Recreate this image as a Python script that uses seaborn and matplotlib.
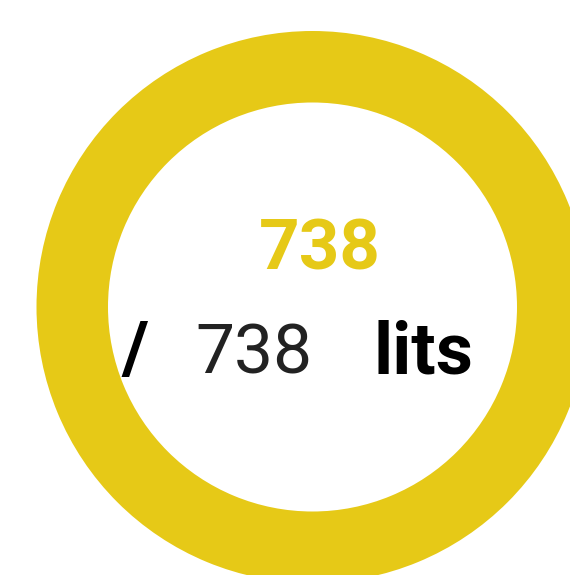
import matplotlib
matplotlib.use("Agg")
import matplotlib.pyplot as plt
import seaborn as sns

sns.set_theme(style="white")
plt.rcParams['font.family'] = ['Roboto', 'DejaVu Sans']

value = 738
total = 738
unit = "lits"
ring_color = "#E6C917"

W, H = 570, 575
fig = plt.figure(figsize=(W / 100, H / 100), dpi=100)
cx, cy, R = 312.5, 307, 276
ax = fig.add_axes([(cx - R) / W, (H - cy - R) / H, 2 * R / W, 2 * R / H])
remaining = total - value
vals = [value] + ([remaining] if remaining > 0 else [])
ax.pie(vals, colors=[ring_color, "#eeeeee"], radius=1, startangle=90,
       counterclock=False, wedgeprops=dict(width=1 - 204.5 / 276, edgecolor="none"))
ax.set_xlim(-1, 1)
ax.set_ylim(-1, 1)
ax.set_aspect("equal")
ax.axis("off")

def px(x):
    return (x - cx) / R

def py(y):
    return (cy - y) / R

ax.text(px(320), py(269), f"{value}", color=ring_color, fontsize=51, fontweight="bold",
        ha="center", va="baseline")
ax.text(px(121), py(373), "/", color="black", fontsize=52, fontweight="bold",
        ha="left", va="baseline")
ax.text(px(254), py(373), f"{total}", color="#222222", fontsize=50, fontweight="normal",
        ha="center", va="baseline")
ax.text(px(373), py(373), unit, color="black", fontsize=52, fontweight="bold",
        ha="left", va="baseline")

fig.savefig("out.png", dpi=100)
